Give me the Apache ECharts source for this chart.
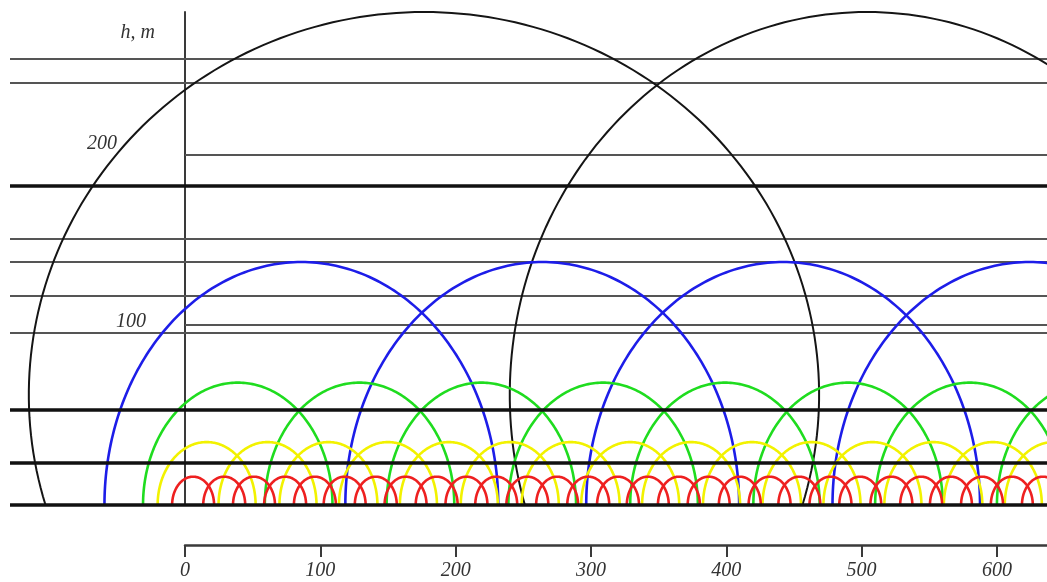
<!DOCTYPE html>
<html><head><meta charset="utf-8">
<script src="https://cdn.jsdelivr.net/npm/echarts@6/dist/echarts.min.js"></script>
<style>html,body{margin:0;padding:0;background:#fff}#c{width:1047px;height:582px}</style>
</head><body><div id="c"></div>
<script>
// ---- data (metres) ----
const xTickValues = [0, 100, 200, 300, 400, 500, 600];
const xTickLabels = ['0', '100', '200', '300', '400', '500', '600'];
const yTickLabels = ['100', '200'];
const yAxisName = 'h, m';

const thinLevels = [255.1, 241.4, 152.2, 139.0, 119.6, 98.4];   // full-width thin lines
const axisLevels = [200.2, 103.0];                              // thin lines starting at the h axis
const thickLevels = [182.5, 54.3, 24.0, 0];                     // thick lines (0 = ground)

const redCenters = [6, 29, 51, 74, 96, 118, 141, 163, 186, 208, 230, 253, 275, 298, 320, 342, 365, 387, 410, 432, 454, 477, 499, 522, 544, 566, 589, 611, 634];
const redRadiusX = 15.5, redRadiusY = 16.2;

const yellowCenters = [16, 61, 106, 150, 195, 240, 285, 329, 374, 419, 463, 508, 553, 597, 642];
const yellowRadiusX = 36.2, yellowRadiusY = 36;

const greenCenters = [39, 129, 219, 309, 399, 490, 580, 670];
const greenRadiusX = 70, greenRadiusY = 70;

const blueCenters = [86, 264, 442, 624];
const blueRadiusX = 145.5, blueRadiusY = 139;

const blackCenters = [176.6, 504];
const blackCenterHeight = 63;
const blackRadiusX = [292, 264];
const blackRadiusY = 219;

// ---- layout ----
const X_MIN = -129.3, X_MAX = 637, Y_MAX = 282;
const FONT = 'Liberation Serif';

function arcSeries(name, rows, color, width, z) {
  return {
    type: 'custom', name: name, xAxisIndex: 0, yAxisIndex: 0, z: z, silent: true,
    clip: false,
    data: rows,
    encode: { x: 0, y: 1 },
    renderItem: function (params, api) {
      const cx = api.value(0), cy = api.value(1), rx = api.value(2), ry = api.value(3);
      const lift = Math.asin(Math.min(1, cy / ry));
      const a0 = -lift, a1 = Math.PI + lift;
      const n = 160, pts = [];
      for (let i = 0; i <= n; i++) {
        const t = a0 + (a1 - a0) * i / n;
        pts.push(api.coord([cx + rx * Math.cos(t), cy + ry * Math.sin(t)]));
      }
      return { type: 'polyline', shape: { points: pts }, style: { stroke: color, lineWidth: width, fill: null } };
    }
  };
}

function levelSeries(name, rows, color, width, z) {
  return {
    type: 'custom', name: name, xAxisIndex: 0, yAxisIndex: 0, z: z, silent: true,
    data: rows, encode: { x: 0, y: 1 },
    renderItem: function (params, api) {
      const p1 = api.coord([api.value(0), api.value(1)]);
      const p2 = api.coord([X_MAX, api.value(1)]);
      return { type: 'line', shape: { x1: p1[0], y1: p1[1], x2: p2[0], y2: p2[1] }, style: { stroke: color, lineWidth: width } };
    }
  };
}

const chart = echarts.init(document.getElementById('c'), null, { renderer: 'canvas' });
chart.setOption({
  animation: false,
  backgroundColor: '#fff',
  grid: [
    { left: 10, right: 0, top: 12, bottom: 77, containLabel: false, outerBoundsMode: 'none' },
    { left: 185, right: 0, bottom: 37, height: 1, containLabel: false, outerBoundsMode: 'none' },
    { left: 185, right: 0, top: 12, bottom: 77, containLabel: false, outerBoundsMode: 'none' }
  ],
  xAxis: [
    { gridIndex: 0, type: 'value', min: X_MIN, max: X_MAX, show: false },
    {
      gridIndex: 1, type: 'value', min: 0, max: X_MAX, interval: 100,
      axisLine: { show: true, onZero: false, lineStyle: { color: '#3a3a3a', width: 2.5 } },
      axisTick: { show: true, length: 12, customValues: xTickValues, lineStyle: { color: '#3a3a3a', width: 2 } },
      splitLine: { show: false },
      axisLabel: {
        margin: 16, color: '#333', fontFamily: FONT, fontStyle: 'italic', fontSize: 20,
        customValues: xTickValues,
        formatter: function (v) { const s = String(v); return xTickLabels.indexOf(s) >= 0 ? s : ''; }
      }
    },
    { gridIndex: 2, type: 'value', min: 0, max: X_MAX, show: false }
  ],
  yAxis: [
    { gridIndex: 0, type: 'value', min: 0, max: Y_MAX, show: false },
    { gridIndex: 1, type: 'value', min: 0, max: 1, show: false },
    {
      gridIndex: 2, type: 'value', min: 0, max: Y_MAX, interval: 100,
      axisLine: { show: true, onZero: false, lineStyle: { color: '#3a3a3a', width: 2 } },
      axisTick: { show: false }, splitLine: { show: false },
      name: yAxisName, nameLocation: 'end', nameGap: -31,
      nameTextStyle: { color: '#333', fontFamily: FONT, fontStyle: 'italic', fontSize: 20, align: 'right', padding: [0, 30, 0, 0] },
      axisLabel: {
        margin: 8, color: '#333', fontFamily: FONT, fontStyle: 'italic', fontSize: 20,
        formatter: function (v) {
          const s = String(v);
          if (s === yTickLabels[0]) return '{a|' + s + '}';
          if (s === yTickLabels[1]) return '{b|' + s + '}';
          return '';
        },
        rich: {
          a: { fontFamily: FONT, fontStyle: 'italic', fontSize: 20, color: '#333', padding: [0, 31, 16, 0] },
          b: { fontFamily: FONT, fontStyle: 'italic', fontSize: 20, color: '#333', padding: [0, 60, 24, 0] }
        }
      }
    }
  ],
  series: [
    levelSeries('thin', thinLevels.map(h => [X_MIN, h]), '#555', 2, 1),
    levelSeries('axis levels', axisLevels.map(h => [0, h]), '#555', 2, 1),
    arcSeries('black', blackCenters.map((c, i) => [c, blackCenterHeight, blackRadiusX[i], blackRadiusY]), '#151515', 2, 2),
    arcSeries('blue', blueCenters.map(c => [c, 0, blueRadiusX, blueRadiusY]), '#1d1de8', 2.6, 3),
    arcSeries('green', greenCenters.map(c => [c, 0, greenRadiusX, greenRadiusY]), '#1fdc1f', 2.6, 4),
    arcSeries('yellow', yellowCenters.map(c => [c, 0, yellowRadiusX, yellowRadiusY]), '#f2f200', 2.6, 5),
    arcSeries('red', redCenters.map(c => [c, 0, redRadiusX, redRadiusY]), '#ee2020', 2.6, 6),
    levelSeries('thick', thickLevels.map(h => [X_MIN, h]), '#111', 3.5, 7)
  ]
});
</script></body></html>
